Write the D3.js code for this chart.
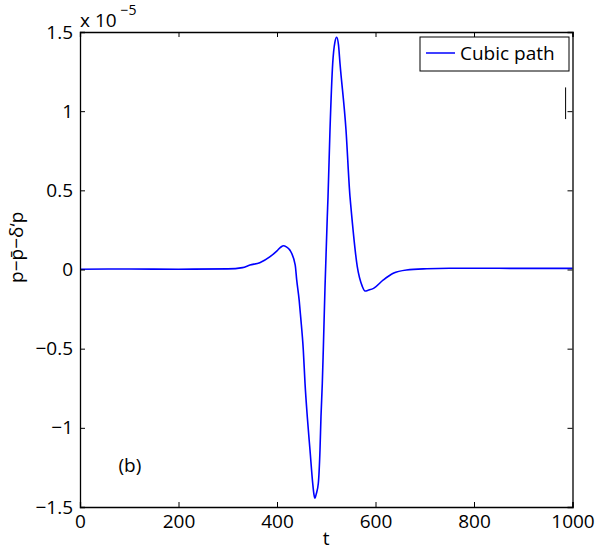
<!DOCTYPE html>
<html>
<head>
<meta charset="utf-8">
<script src="https://cdn.jsdelivr.net/npm/d3@7"></script>
<style>
  body { margin: 0; background: #fff; }
  text { font-family: "Open Sans", sans-serif; fill: #000; }
</style>
</head>
<body>
<div id="chart"></div>
<script>
// values (y in units of 1e-5)
const tValues = [0, 100, 200, 300, 330, 345, 365, 386, 400, 408, 413, 419, 426, 437, 440, 445, 448, 453.4, 456.9, 461.5, 467, 472.5, 475, 477.2, 479.5,
  483.9, 487.3, 489.3, 492, 494, 497.5, 502.1, 503.6, 507.6, 513.1, 517.5, 521.2, 524.8,
  527.9, 540.1, 548.2, 550, 563, 573, 578.7, 586, 596, 616, 636, 663, 704, 750, 800, 900, 1000];
const pValues = [0.002, 0.003, 0.002, 0.004, 0.012, 0.028, 0.043, 0.081, 0.118, 0.142, 0.150, 0.143, 0.123, 0.028, -0.066, -0.193, -0.298, -0.508, -0.719, -0.930, -1.140, -1.350, -1.420, -1.445, -1.420,
  -1.350, -1.140, -0.930, -0.719, -0.508, -0.109, 0.333, 0.460, 0.881, 1.302, 1.435, 1.467, 1.420,
  1.302, 0.881, 0.460, 0.397, 0.018, -0.105, -0.136, -0.130, -0.119, -0.066, -0.024, -0.003, 0.005, 0.008, 0.008, 0.007, 0.007];
const xTicks = [0, 200, 400, 600, 800, 1000];
const yTicks = [-1.5, -1, -0.5, 0, 0.5, 1, 1.5];
const seriesName = 'Cubic path';
const panelLabel = '(b)';
// stray vertical stroke near the right edge of the original figure
const strayMark = [[986, 1.15], [986, 0.95]];

const width = 595, height = 552;
const margin = {left: 80, right: 22.5, top: 32, bottom: 45};
const fs = '19px';

const svg = d3.select('#chart').append('svg')
  .attr('width', width).attr('height', height);

const x = d3.scaleLinear().domain([0, 1000]).range([margin.left, width - margin.right]);
const y = d3.scaleLinear().domain([-1.5, 1.5]).range([height - margin.bottom, margin.top]);

const fmt = d => (d < 0 ? '\u2212' : '') + Math.abs(d);

// data line
const line = d3.line().x(d => x(d[0])).y(d => y(d[1])).curve(d3.curveMonotoneX);
svg.append('path')
  .datum(tValues.map((t, i) => [t, pValues[i]]))
  .attr('d', line)
  .attr('fill', 'none')
  .attr('stroke', '#0000ff')
  .attr('stroke-width', 1.6)
  .attr('stroke-linejoin', 'round');

// axes with inward ticks on all sides
const tk = 5;
svg.append('g').attr('transform', `translate(0,${y(-1.5)})`)
  .call(d3.axisBottom(x).tickValues(xTicks).tickSize(-tk).tickPadding(tk + 3).tickFormat(fmt));
svg.append('g').attr('transform', `translate(0,${y(1.5)})`)
  .call(d3.axisTop(x).tickValues(xTicks).tickSize(-tk).tickFormat(''));
svg.append('g').attr('transform', `translate(${x(0)},0)`)
  .call(d3.axisLeft(y).tickValues(yTicks).tickSize(-tk).tickPadding(tk + 2).tickFormat(fmt));
svg.append('g').attr('transform', `translate(${x(1000)},0)`)
  .call(d3.axisRight(y).tickValues(yTicks).tickSize(-tk).tickFormat(''));

svg.selectAll('.domain').attr('stroke', '#000').attr('stroke-width', 1.3);
svg.selectAll('.tick line').attr('stroke', '#000');
svg.selectAll('.tick text').style('font-family', '"Open Sans", sans-serif').style('font-size', fs).attr('fill', '#000');

// exponent
const expo = svg.append('text').attr('x', x(0)).attr('y', y(1.5) - 5).style('font-size', fs);
expo.append('tspan').text('x 10');
expo.append('tspan').attr('dx', 4).attr('dy', -12).style('font-size', '14px').text('\u22125');

// axis labels
svg.append('text').attr('x', x(500)).attr('y', height - 7)
  .attr('text-anchor', 'middle').style('font-size', fs).text('t');
svg.append('text').attr('transform', `translate(23,${y(0.14)}) rotate(-90)`)
  .attr('text-anchor', 'middle').style('font-size', fs).text('p\u2212p\u0304\u2212\u03b4\u2018p');

// panel label
svg.append('text').attr('x', x(78)).attr('y', y(-1.28))
  .style('font-size', fs).text(panelLabel);

// stray stroke
svg.append('line')
  .attr('x1', x(strayMark[0][0])).attr('y1', y(strayMark[0][1]))
  .attr('x2', x(strayMark[1][0])).attr('y2', y(strayMark[1][1]))
  .attr('stroke', '#000').attr('stroke-width', 1);

// legend
const lg = svg.append('g').attr('transform', `translate(420,37)`);
lg.append('rect').attr('width', 149).attr('height', 34)
  .attr('fill', '#fff').attr('stroke', '#000').attr('stroke-width', 1);
lg.append('line').attr('x1', 6).attr('x2', 35).attr('y1', 16).attr('y2', 16)
  .attr('stroke', '#0000ff').attr('stroke-width', 1.5);
lg.append('text').attr('x', 40).attr('y', 23).style('font-size', fs).text(seriesName);
</script>
</body>
</html>
